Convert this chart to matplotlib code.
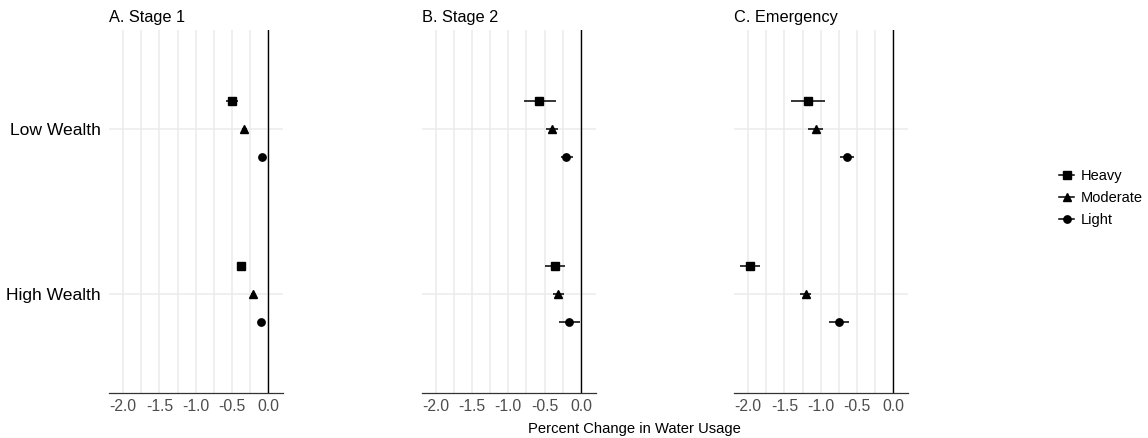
import numpy as np
import matplotlib
matplotlib.use("Agg")
import matplotlib.pyplot as plt
from matplotlib.lines import Line2D

plt.rcParams['font.family'] = ['Liberation Sans', 'DejaVu Sans']

# wealth groups (bottom to top) and usage groups
wealth = ["High Wealth", "Low Wealth"]
usage = ["Heavy", "Moderate", "Light"]
markers = {"Heavy": "s", "Moderate": "^", "Light": "o"}
msize = {"Heavy": 5.8, "Moderate": 6.3, "Light": 5.3}
offsets = {"Heavy": 0.167, "Moderate": 0.0, "Light": -0.167}

panels = ["A. Stage 1", "B. Stage 2", "C. Emergency"]

# estimates: [High Wealth, Low Wealth] per usage group
stage1_est = {"Heavy": [-0.38, -0.50], "Moderate": [-0.21, -0.33], "Light": [-0.10, -0.09]}
stage1_lo = {"Heavy": [-0.41, -0.58], "Moderate": [-0.24, -0.36], "Light": [-0.12, -0.11]}
stage1_hi = {"Heavy": [-0.35, -0.42], "Moderate": [-0.18, -0.30], "Light": [-0.08, -0.07]}

stage2_est = {"Heavy": [-0.36, -0.58], "Moderate": [-0.32, -0.40], "Light": [-0.17, -0.20]}
stage2_lo = {"Heavy": [-0.49, -0.79], "Moderate": [-0.39, -0.48], "Light": [-0.30, -0.28]}
stage2_hi = {"Heavy": [-0.22, -0.35], "Moderate": [-0.24, -0.31], "Light": [-0.02, -0.105]}

emerg_est = {"Heavy": [-1.98, -1.18], "Moderate": [-1.21, -1.07], "Light": [-0.75, -0.645]}
emerg_lo = {"Heavy": [-2.11, -1.41], "Moderate": [-1.29, -1.17], "Light": [-0.89, -0.74]}
emerg_hi = {"Heavy": [-1.84, -0.94], "Moderate": [-1.13, -0.97], "Light": [-0.61, -0.54]}

data = [(stage1_est, stage1_lo, stage1_hi),
        (stage2_est, stage2_lo, stage2_hi),
        (emerg_est, emerg_lo, emerg_hi)]

W, H = 1148, 438
fig = plt.figure(figsize=(W / 100, H / 100), dpi=100)

lefts = [109, 421.5, 734]
pw = 174
top, bottom = 30, 393

grid_c = "#EBEBEB"
for i, (title, (est, lo, hi)) in enumerate(zip(panels, data)):
    ax = fig.add_axes([lefts[i] / W, 1 - bottom / H, pw / W, (bottom - top) / H])
    ax.set_xlim(-2.195, 0.2)
    ax.set_ylim(0.4, 2.6)
    for gx in np.arange(-2.0, 0.01, 0.25):
        ax.axvline(gx, color=grid_c, lw=1.1, zorder=0)
    for gy in [1, 2]:
        ax.axhline(gy, color=grid_c, lw=1.1, zorder=0)
    ax.axvline(0, color="black", lw=1.0, zorder=1)
    yb = np.arange(1, len(wealth) + 1)
    for u in usage:
        y = yb + offsets[u]
        e = np.array(est[u])
        err = np.vstack([e - np.array(lo[u]), np.array(hi[u]) - e])
        ax.errorbar(e, y, xerr=err, fmt="none", ecolor="black", elinewidth=1.1, capsize=0, zorder=2)
        ax.plot(e, y, linestyle="none", marker=markers[u], ms=msize[u], color="black", zorder=3)
    for s in ["top", "right", "left"]:
        ax.spines[s].set_visible(False)
    ax.spines["bottom"].set_color("#333333")
    ax.spines["bottom"].set_linewidth(0.9)
    ax.set_xticks([-2.0, -1.5, -1.0, -0.5, 0.0])
    ax.set_xticklabels(["-2.0", "-1.5", "-1.0", "-0.5", "0.0"])
    ax.tick_params(axis="x", length=0, pad=4, labelsize=11.3, labelcolor="#4D4D4D")
    ax.set_yticks(yb)
    if i == 0:
        ax.set_yticklabels(wealth)
        ax.tick_params(axis="y", length=0, pad=6, labelsize=12.6, labelcolor="black")
    else:
        ax.set_yticklabels([])
        ax.tick_params(axis="y", length=0)
    ax.set_title(title, loc="left", fontsize=11.8, pad=6)

fig.text(634 / W, 1 - 433 / H, "Percent Change in Water Usage", ha="center", va="baseline", fontsize=10.6)

handles = [Line2D([], [], color="black", lw=1.1, marker=markers[u], ms=msize[u]) for u in usage]
fig.legend(handles, usage, loc="center left", bbox_to_anchor=(1046 / W, 1 - 198 / H),
           frameon=False, fontsize=10.5, handlelength=1.05, handletextpad=0.45, labelspacing=0.55)

fig.savefig("out.png", dpi=100)
